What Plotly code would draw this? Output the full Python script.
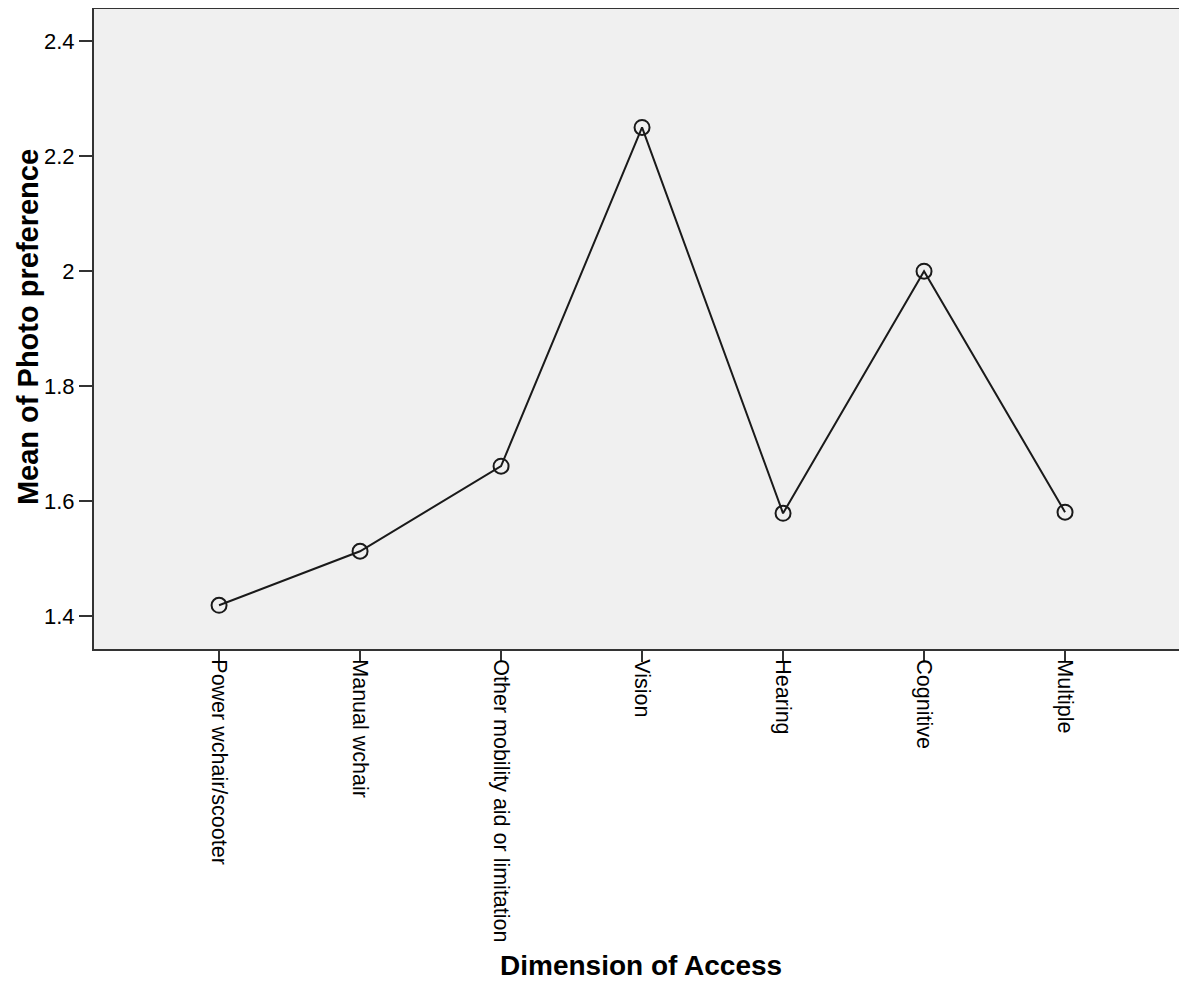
import plotly.graph_objects as go

categories = ["Power wchair/scooter", "Manual wchair", "Other mobility aid or limitation",
              "Vision", "Hearing", "Cognitive", "Multiple"]
mean_photo_pref = [1.419, 1.513, 1.661, 2.250, 1.579, 2.000, 1.581]
y_tick_vals = [1.4, 1.6, 1.8, 2.0, 2.2, 2.4]
y_tick_text = ["1.4", "1.6", "1.8", "2", "2.2", "2.4"]

FONT = "Liberation Sans, Arial, sans-serif"

fig = go.Figure()
fig.add_trace(go.Scatter(
    x=list(range(len(categories))),
    y=mean_photo_pref,
    mode="lines+markers",
    line=dict(color="#1a1a1a", width=2),
    marker=dict(symbol="circle-open", size=15, color="#1a1a1a", line=dict(width=2)),
    showlegend=False,
    hoverinfo="skip",
))

fig.update_layout(
    width=1179, height=978,
    margin=dict(l=86, r=0, t=1, b=337),
    paper_bgcolor="white",
    plot_bgcolor="#f0f0f0",
    font=dict(family=FONT, color="black"),
    xaxis=dict(
        range=[-0.887, 6.865],
        tickmode="array",
        tickvals=list(range(len(categories))),
        ticktext=categories,
        tickangle=90,
        tickfont=dict(size=21.5, family=FONT, color="black"),
        ticklabelstandoff=-7,
        ticks="outside", ticklen=11, tickwidth=2, tickcolor="#333333",
        showline=True, linecolor="#333333", linewidth=2, mirror=True,
        showgrid=False, zeroline=False,
    ),
    yaxis=dict(
        range=[1.343, 2.456],
        tickmode="array",
        tickvals=y_tick_vals,
        ticktext=y_tick_text,
        tickfont=dict(size=22, family=FONT, color="black"),
        ticks="outside", ticklen=13, tickwidth=2, tickcolor="#333333",
        showline=True, linecolor="#333333", linewidth=2,
        showgrid=False, zeroline=False,
    ),
    annotations=[
        dict(text="<b>Mean of Photo preference</b>", xref="paper", yref="paper",
             x=-0.0604, y=0.503, xanchor="center", yanchor="middle", textangle=-90,
             showarrow=False, font=dict(size=29, family=FONT, color="black")),
        dict(text="<b>Dimension of Access</b>", xref="paper", yref="paper",
             x=0.5005, y=-0.4953, xanchor="center", yanchor="middle",
             showarrow=False, font=dict(size=28, family=FONT, color="black")),
    ],
)

fig.write_html("out.html")
